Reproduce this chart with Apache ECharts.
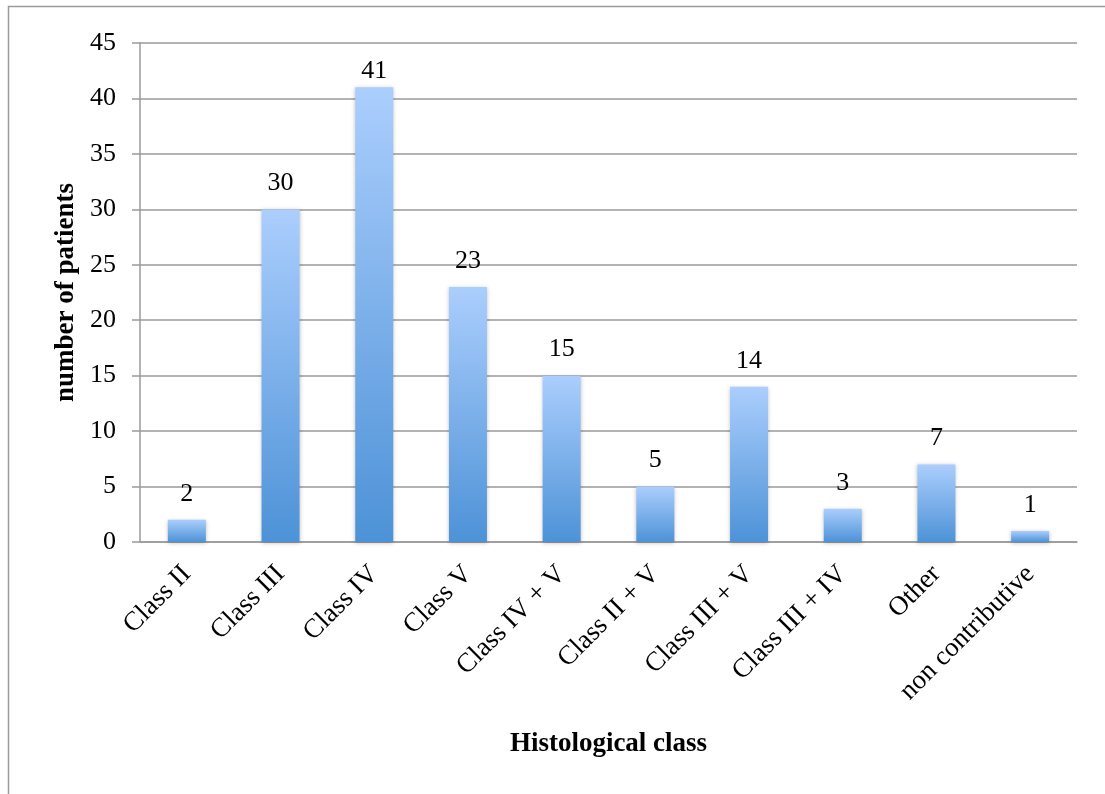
<!DOCTYPE html>
<html><head><meta charset="utf-8">
<script src="https://cdn.jsdelivr.net/npm/echarts@6/dist/echarts.min.js"></script>
<style>html,body{margin:0;padding:0;background:#fff}#c{width:1105px;height:794px}</style>
</head><body><div id="c"></div>
<script>
const categories = ['Class II','Class III','Class IV','Class V','Class IV + V','Class II + V','Class III + V','Class III + IV','Other','non contributive'];
const patients = [2,30,41,23,15,5,14,3,7,1];
const yTicks = {min:0, max:45, interval:5};

const font = '"Liberation Serif", "DejaVu Serif", serif';
const chart = echarts.init(document.getElementById('c'), null, {renderer:'canvas'});
const data = patients.map(v => v >= 40 ? {value:v, label:{distance:3}} : v);
chart.setOption({
  animation:false,
  backgroundColor:'#fff',
  graphic:[{type:'rect', shape:{x:8.5,y:6.5,width:1200,height:900}, style:{fill:'none',stroke:'#9a9a9a',lineWidth:1.5}, silent:true}],
  grid:{left:140, top:43, width:937, height:499},
  xAxis:{
    type:'category', data:categories,
    axisLine:{lineStyle:{color:'#9a9a9a', width:1.5}},
    axisTick:{show:false},
    axisLabel:{rotate:45, fontFamily:font, fontSize:27, color:'#000', margin:28, interval:0},
    name:'Histological class', nameLocation:'middle', nameGap:189,
    nameTextStyle:{fontFamily:font, fontSize:27, fontWeight:'bold', color:'#000'}
  },
  yAxis:{
    type:'value', min:yTicks.min, max:yTicks.max, interval:yTicks.interval,
    axisLine:{show:true, lineStyle:{color:'#9a9a9a', width:1.5}},
    axisTick:{show:true, inside:false, length:8, lineStyle:{color:'#9a9a9a', width:1.5}},
    splitLine:{lineStyle:{color:'#9a9a9a', width:1.5}},
    axisLabel:{fontFamily:font, fontSize:26, color:'#000', margin:24},
    name:'number of patients', nameLocation:'middle', nameGap:58, nameRotate:90,
    nameTextStyle:{fontFamily:font, fontSize:27, fontWeight:'bold', color:'#000'}
  },
  series:[{
    type:'bar', data:data, barWidth:38,
    itemStyle:{
      color:new echarts.graphic.LinearGradient(0,0,0,1,[{offset:0,color:'#abcefd'},{offset:1,color:'#4d92d7'}]),
      shadowBlur:4, shadowColor:'rgba(0,0,0,0.25)', shadowOffsetY:1
    },
    label:{show:true, position:'top', distance:13, fontFamily:font, fontSize:26, color:'#000'}
  }]
});
</script></body></html>
